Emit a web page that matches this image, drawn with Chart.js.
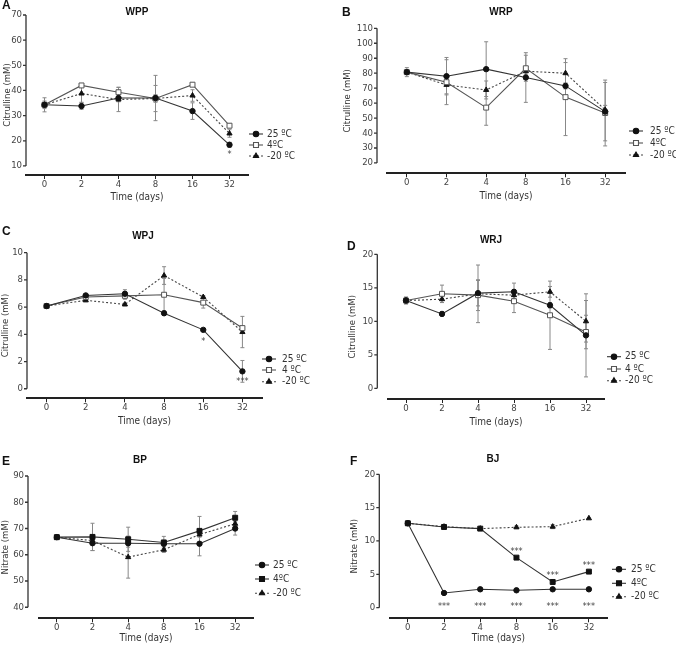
<!DOCTYPE html>
<html>
<head>
<meta charset="utf-8">
<script src="https://cdn.jsdelivr.net/npm/chart.js@4.4.1/dist/chart.umd.min.js"></script>
<style>
  body { margin: 0; background: #fff; }
  #wrap { position: relative; width: 676px; height: 645px; }
  canvas { position: absolute; }
</style>
</head>
<body>
<div id="wrap">
  <canvas id="cA" width="338" height="215" style="left:0;top:0"></canvas>
  <canvas id="cB" width="338" height="215" style="left:338px;top:0"></canvas>
  <canvas id="cC" width="338" height="215" style="left:0;top:215px"></canvas>
  <canvas id="cD" width="338" height="215" style="left:338px;top:215px"></canvas>
  <canvas id="cE" width="338" height="215" style="left:0;top:430px"></canvas>
  <canvas id="cF" width="338" height="215" style="left:338px;top:430px"></canvas>
</div>
<script>
// --- DADOS ---
const days = ['0', '2', '4', '8', '16', '32'];
const namesTight = ['25 ºC', '4ºC', '-20 ºC'];
const namesWide = ['25 ºC', '4 ºC', '-20 ºC'];

// A - WPP (citrulline, mM)
const wppTicks = [10, 20, 30, 40, 50, 60, 70];
const wpp25 = [34.3, 33.8, 37.0, 37.0, 31.8, 18.4];
const wpp25Sd = [2.8, 1.3, 1.5, 9.0, 3.3, 1.0];
const wpp4 = [34.3, 42.0, 39.3, 36.8, 42.3, 26.0];
const wpp4Sd = [0.8, 0.6, 2.0, 1.5, 0.6, 0.8];
const wppM20 = [34.3, 38.8, 36.4, 36.8, 38.0, 22.9];
const wppM20Sd = [1.5, 3.5, 4.8, 5.2, 2.3, 1.5];
const wppStars = [{ i: 5, v: 15.1, t: '*' }];

// B - WRP
const wrpTicks = [20, 30, 40, 50, 60, 70, 80, 90, 100, 110];
const wrp25 = [80.7, 78.0, 82.7, 77.1, 71.5, 54.3];
const wrp25Sd = [3.0, 12.5, 18.3, 16.6, 2.0, 19.5];
const wrp4 = [80.7, 74.0, 57.0, 83.3, 64.0, 53.4];
const wrp4Sd = [1.5, 15.0, 11.8, 8.7, 25.7, 22.0];
const wrpM20 = [80.7, 72.2, 68.8, 81.3, 80.0, 55.5];
const wrpM20Sd = [1.5, 6.0, 6.0, 2.0, 7.1, 3.0];

// C - WPJ
const wpjTicks = [0, 2, 4, 6, 8, 10];
const wpj25 = [6.08, 6.86, 6.98, 5.55, 4.33, 1.28];
const wpj25Sd = [0.05, 0.1, 0.3, 0.15, 0.1, 0.8];
const wpj4 = [6.08, 6.74, 6.83, 6.91, 6.33, 4.46];
const wpj4Sd = [0.05, 0.1, 0.25, 1.2, 0.4, 0.1];
const wpjM20 = [6.08, 6.5, 6.2, 8.32, 6.74, 4.17];
const wpjM20Sd = [0.05, 0.1, 0.1, 0.65, 0.1, 1.15];
const wpjStars = [{ i: 4, v: 3.6, t: '*' }, { i: 5, v: 0.65, t: '***' }];

// D - WRJ
const wrjTicks = [0, 5, 10, 15, 20];
const wrj25 = [13.1, 11.1, 14.2, 14.4, 12.4, 7.9];
const wrj25Sd = [0.5, 0.3, 1.9, 1.3, 0.4, 6.2];
const wrj4 = [13.1, 14.1, 13.9, 13.0, 10.9, 8.4];
const wrj4Sd = [0.5, 1.3, 2.3, 1.7, 5.1, 2.5];
const wrjM20 = [13.1, 13.3, 14.1, 13.9, 14.4, 10.0];
const wrjM20Sd = [0.3, 0.5, 4.3, 0.5, 0.8, 3.1];

// E - BP (nitrate, mM)
const bpTicks = [40, 50, 60, 70, 80, 90];
const bp25 = [66.7, 64.4, 64.4, 64.2, 64.2, 70.0];
const bp25Sd = [0.5, 2.8, 1.5, 1.0, 4.6, 2.5];
const bp4 = [66.7, 66.8, 65.9, 64.7, 69.1, 74.1];
const bp4Sd = [0.5, 5.2, 4.6, 2.3, 5.5, 2.4];
const bpM20 = [66.7, 65.4, 59.1, 61.9, 67.7, 71.8];
const bpM20Sd = [0.5, 1.0, 8.0, 1.0, 1.0, 1.0];

// F - BJ
const bjTicks = [0, 5, 10, 15, 20];
const bj25 = [12.65, 2.2, 2.75, 2.6, 2.75, 2.75];
const bj25Sd = [0, 0, 0, 0, 0, 0];
const bj4 = [12.65, 12.1, 11.85, 7.5, 3.85, 5.4];
const bj4Sd = [0, 0, 0, 0, 0, 0];
const bjM20 = [12.65, 12.15, 11.85, 12.05, 12.15, 13.4];
const bjM20Sd = [0, 0, 0, 0.2, 0.3, 0];
const bjStars = [
    { i: 3, v: 8.65, t: '***' }, { i: 4, v: 5.15, t: '***' }, { i: 5, v: 6.6, t: '***' },
    { i: 1, v: 0.45, t: '***' }, { i: 2, v: 0.45, t: '***' }, { i: 3, v: 0.45, t: '***' },
    { i: 4, v: 0.45, t: '***' }, { i: 5, v: 0.45, t: '***' }
];

// --- ESTILO ---
const FONT = "'Liberation Sans Narrow', 'DejaVu Sans Condensed', 'Liberation Sans', Arial, sans-serif";
const BOLD = "'Liberation Sans', Arial, Helvetica, sans-serif";
Chart.defaults.font.family = FONT;
Chart.defaults.color = '#444';

function serie(label, mean, err, kind) {
    const base = {
        label: label, data: mean, errors: err,
        borderWidth: 1.1, tension: 0, pointBorderWidth: 1, pointHoverRadius: 0
    };
    if (kind === 'circle') {
        return Object.assign(base, { borderColor: '#333', pointStyle: 'circle', pointRadius: 2.7,
            pointBackgroundColor: '#111', pointBorderColor: '#111' });
    }
    if (kind === 'open') {
        return Object.assign(base, { borderColor: '#555', pointStyle: 'rect', pointRadius: 3.5,
            pointBackgroundColor: '#fff', pointBorderColor: '#555' });
    }
    if (kind === 'square') {
        return Object.assign(base, { borderColor: '#333', pointStyle: 'rect', pointRadius: 3.5,
            pointBackgroundColor: '#111', pointBorderColor: '#111' });
    }
    return Object.assign(base, { borderColor: '#444', borderDash: [2, 2], pointStyle: 'triangle',
        pointRadius: 3, pointBackgroundColor: '#111', pointBorderColor: '#111' });
}

// eixo Y estilo GraphPad + barras de erro + legenda + textos
const graphPad = {
    id: 'graphPad',
    beforeDatasetsDraw(chart, args, o) {
        const { ctx, chartArea, scales: { x, y } } = chart;
        const ax = chartArea.left - o.gap;
        ctx.save();
        ctx.strokeStyle = '#333';
        ctx.lineWidth = 1.3;
        ctx.beginPath();
        ctx.moveTo(ax, y.getPixelForValue(o.ticks[0]));
        ctx.lineTo(ax, y.getPixelForValue(o.ticks[o.ticks.length - 1]));
        o.ticks.forEach(v => {
            const py = y.getPixelForValue(v);
            ctx.moveTo(ax - 3, py);
            ctx.lineTo(ax, py);
        });
        ctx.stroke();

        // barras de erro
        ctx.strokeStyle = '#888';
        ctx.lineWidth = 1;
        chart.data.datasets.forEach((ds, di) => {
            const meta = chart.getDatasetMeta(di);
            ds.errors.forEach((e, i) => {
                if (!e) return;
                const px = meta.data[i].x;
                const hi = y.getPixelForValue(ds.data[i] + e);
                const lo = y.getPixelForValue(ds.data[i] - e);
                ctx.beginPath();
                ctx.moveTo(px, hi); ctx.lineTo(px, lo);
                ctx.moveTo(px - 2, hi); ctx.lineTo(px + 2, hi);
                ctx.moveTo(px - 2, lo); ctx.lineTo(px + 2, lo);
                ctx.stroke();
            });
        });
        ctx.restore();
    },
    afterDatasetsDraw(chart, args, o) {
        const { ctx, scales: { x, y } } = chart;
        ctx.save();
        // asteriscos
        ctx.fillStyle = '#444';
        ctx.font = '9px ' + FONT;
        ctx.textAlign = 'center';
        ctx.textBaseline = 'middle';
        (o.stars || []).forEach(s => {
            ctx.fillText(s.t, x.getPixelForValue(s.i), y.getPixelForValue(s.v) + 2);
        });

        // legenda
        chart.data.datasets.forEach((ds, di) => {
            const ly = o.legendY[di];
            ctx.strokeStyle = ds.borderColor;
            ctx.lineWidth = 1.1;
            ctx.setLineDash(ds.borderDash || []);
            ctx.beginPath();
            ctx.moveTo(o.legendX - 7, ly);
            ctx.lineTo(o.legendX + 7, ly);
            ctx.stroke();
            ctx.setLineDash([]);
            ctx.fillStyle = ds.pointBackgroundColor;
            ctx.strokeStyle = ds.pointBorderColor;
            Chart.helpers.drawPoint(ctx, { pointStyle: ds.pointStyle, radius: ds.pointRadius,
                rotation: 0, borderWidth: 1 }, o.legendX, ly);
            ctx.fillStyle = '#333';
            ctx.font = '10px ' + FONT;
            ctx.textAlign = 'left';
            ctx.fillText(ds.label, o.legendTextX, ly);
        });

        // letra do painel e titulo
        ctx.fillStyle = '#111';
        ctx.font = 'bold 12px ' + BOLD;
        ctx.textAlign = 'left';
        ctx.fillText(o.letter, o.letterX, o.letterY);
        ctx.font = 'bold 10px ' + BOLD;
        ctx.textAlign = 'center';
        ctx.fillText(o.title, o.titleX, o.titleY);
        ctx.restore();
    }
};

function painel(id, datasets, p) {
    new Chart(document.getElementById(id), {
        type: 'line',
        data: { labels: days, datasets: datasets },
        plugins: [graphPad],
        options: {
            responsive: false,
            animation: false,
            events: [],
            layout: { padding: p.pad },
            plugins: {
                legend: { display: false },
                tooltip: { enabled: false },
                graphPad: p
            },
            scales: {
                x: {
                    type: 'category',
                    offset: true,
                    grid: { display: true, drawOnChartArea: false, drawTicks: true, tickLength: 4,
                        offset: false, color: '#222', lineWidth: 1 },
                    border: { display: true, color: '#222', width: 2 },
                    ticks: { color: '#444', font: { size: 9.5 }, padding: 0, maxRotation: 0, autoSkip: false },
                    title: { display: true, text: 'Time (days)', color: '#333', font: { size: 10 }, padding: 0 },
                    afterFit(s) { s.height = p.xH; }
                },
                y: {
                    type: 'linear',
                    min: p.min,
                    max: p.ticks[p.ticks.length - 1],
                    afterBuildTicks(s) { s.ticks = p.ticks.map(v => ({ value: v })); },
                    grid: { display: true, drawOnChartArea: false, drawTicks: true, tickLength: p.gap + 3,
                        color: 'rgba(0,0,0,0)' },
                    border: { display: false },
                    ticks: { color: '#444', font: { size: 9.5 }, padding: 1 },
                    title: { display: true, text: p.yTitle, color: '#333', font: { size: 9.5 }, padding: 0 },
                    afterFit(s) { s.width = p.yW; }
                }
            }
        }
    });
}

painel('cA', [
    serie(namesTight[0], wpp25, wpp25Sd, 'circle'),
    serie(namesTight[1], wpp4, wpp4Sd, 'open'),
    serie(namesTight[2], wppM20, wppM20Sd, 'tri')
], { ticks: wppTicks, min: 6.4, gap: 0, yW: 24, xH: 28, yTitle: 'Citrulline (mM)',
    pad: { left: 2, top: 15, right: 90, bottom: 12 }, stars: wppStars,
    legendX: 256, legendTextX: 267, legendY: [134, 145, 156],
    letter: 'A', letterX: 2, letterY: 6, title: 'WPP', titleX: 137, titleY: 12 });

painel('cB', [
    serie(namesTight[0], wrp25, wrp25Sd, 'circle'),
    serie(namesTight[1], wrp4, wrp4Sd, 'open'),
    serie(namesTight[2], wrpM20, wrpM20Sd, 'tri')
], { ticks: wrpTicks, min: 13.1, gap: 10, yW: 45, xH: 28.8, yTitle: 'Citrulline (mM)',
    pad: { left: 4, top: 28.3, right: 51, bottom: 12.9 },
    legendX: 298, legendTextX: 312, legendY: [131, 143, 155],
    letter: 'B', letterX: 4, letterY: 13, title: 'WRP', titleX: 163, titleY: 12 });

painel('cC', [
    serie(namesWide[0], wpj25, wpj25Sd, 'circle'),
    serie(namesWide[1], wpj4, wpj4Sd, 'open'),
    serie(namesWide[2], wpjM20, wpjM20Sd, 'tri')
], { ticks: wpjTicks, min: -0.7, gap: 0, yW: 27, xH: 29.5, yTitle: 'Citrulline (mM)',
    pad: { left: 0, top: 37.7, right: 76, bottom: 2.2 }, stars: wpjStars,
    legendX: 269, legendTextX: 282, legendY: [144, 155, 166.7],
    letter: 'C', letterX: 2, letterY: 17, title: 'WPJ', titleX: 143, titleY: 21.7 });

painel('cD', [
    serie(namesWide[0], wrj25, wrj25Sd, 'circle'),
    serie(namesWide[1], wrj4, wrj4Sd, 'open'),
    serie(namesWide[2], wrjM20, wrjM20Sd, 'tri')
], { ticks: wrjTicks, min: -1.6, gap: 10.7, yW: 41, xH: 29.4, yTitle: 'Citrulline (mM)',
    pad: { left: 9, top: 39.3, right: 72, bottom: 1.6 },
    legendX: 276, legendTextX: 287, legendY: [141.7, 154, 165.7],
    letter: 'D', letterX: 9, letterY: 32, title: 'WRJ', titleX: 153, titleY: 25 });

painel('cE', [
    serie(namesTight[0], bp25, bp25Sd, 'circle'),
    serie(namesTight[1], bp4, bp4Sd, 'square'),
    serie(namesTight[2], bpM20, bpM20Sd, 'tri')
], { ticks: bpTicks, min: 35.8, gap: 11, yW: 39, xH: 26, yTitle: 'Nitrate (mM)',
    pad: { left: 0, top: 46, right: 85, bottom: 0.7 },
    legendX: 262, legendTextX: 273, legendY: [135, 149, 163.3],
    letter: 'E', letterX: 2, letterY: 32, title: 'BP', titleX: 140, titleY: 30.7 });

painel('cF', [
    serie(namesTight[0], bj25, bj25Sd, 'circle'),
    serie(namesTight[1], bj4, bj4Sd, 'square'),
    serie(namesTight[2], bjM20, bjM20Sd, 'tri')
], { ticks: bjTicks, min: -1.6, gap: 10.4, yW: 40.7, xH: 26.1, yTitle: 'Nitrate (mM)',
    pad: { left: 11, top: 44.3, right: 69, bottom: 0.6 }, stars: bjStars,
    legendX: 281, legendTextX: 293, legendY: [139.3, 153.3, 166.7],
    letter: 'F', letterX: 12, letterY: 32, title: 'BJ', titleX: 155, titleY: 29.3 });
</script>
</body>
</html>
